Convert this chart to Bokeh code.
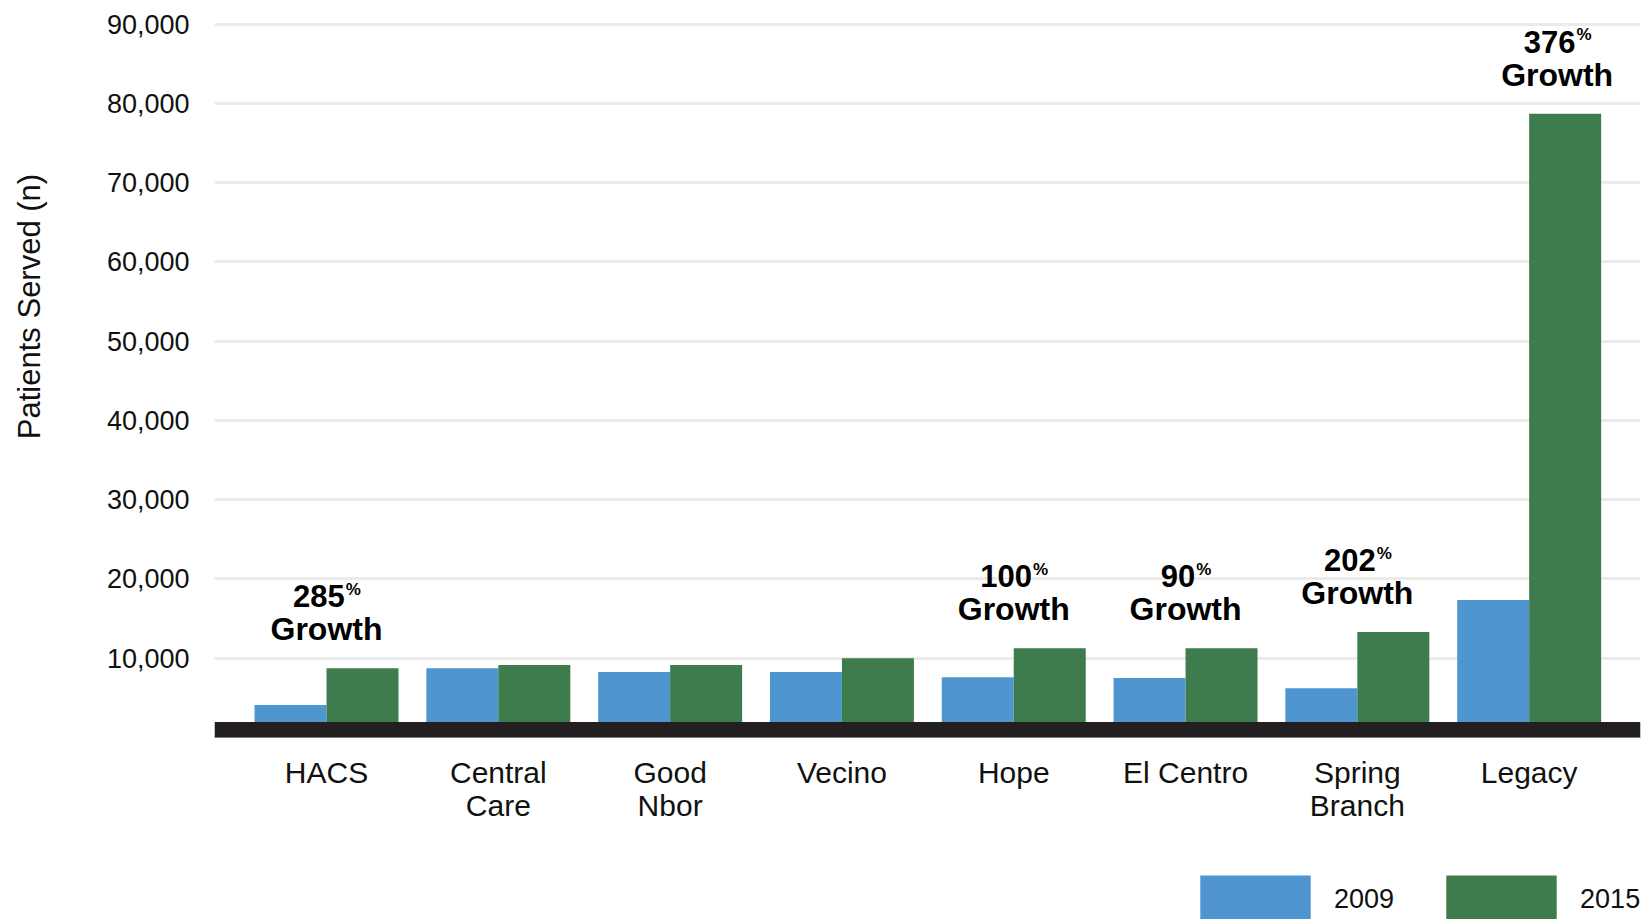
import math
from bokeh.plotting import figure
from bokeh.layouts import row, column
from bokeh.models import (ColumnDataSource, Range1d, FixedTicker, NumeralTickFormatter,
                          BoxAnnotation, Legend, LegendItem, Label)
from bokeh.transform import dodge
from bokeh.core.properties import value
from bokeh.embed import file_html
from bokeh.resources import INLINE

# ---------------- data ----------------
categories = ["HACS", "Central Care", "Good Nbor", "Vecino", "Hope",
              "El Centro", "Spring Branch", "Legacy"]
tick_labels = ["HACS", "Central\nCare", "Good\nNbor", "Vecino", "Hope",
               "El Centro", "Spring\nBranch", "Legacy"]
patients_2009 = [4100, 8750, 8250, 8250, 7600, 7500, 6200, 17350]
patients_2015 = [8750, 9150, 9150, 10000, 11250, 11250, 13300, 78700]
years = ["2009", "2015"]
growth_sites = ["HACS", "Hope", "El Centro", "Spring Branch", "Legacy"]
growth_pct = [285, 100, 90, 202, 376]
y_ticks = [10000, 20000, 30000, 40000, 50000, 60000, 70000, 80000, 90000]
y_title = "Patients Served (n)"

# ---------------- styles ----------------
BLUE = "#4f96d0"
GREEN = "#3e7c4e"
FONT = "Liberation Sans"
growth_dx = [0, 0, 0, 0, 28]        # pixel shift of each growth label
NUM_PX, PCT_PX = 31, 17
LEFT_W = 60
MAIN_H = 860


def bare(fig):
    fig.outline_line_color = None
    fig.xgrid.visible = False
    fig.ygrid.visible = False
    return fig


# ---------------- left strip: y axis title ----------------
yl = bare(figure(width=LEFT_W, height=MAIN_H, x_range=Range1d(0, 1), y_range=Range1d(0, 1),
                 x_axis_location=None, y_axis_location=None, output_backend="svg",
                 toolbar_location=None, min_border=0))
yl.add_layout(Label(x=29, y=431, x_units="screen", y_units="screen",
                    text=y_title, angle=math.pi / 2, text_align="center",
                    text_baseline="middle", text_font=FONT, text_font_size="31px",
                    text_color="#111111"))

# ---------------- main chart ----------------
src = ColumnDataSource(dict(x=list(range(len(categories))), cat=categories,
                            v09=patients_2009, v15=patients_2015))

p = figure(width=1645 - LEFT_W, height=MAIN_H,
           x_range=Range1d(-0.652, 7.648), y_range=Range1d(0, 90970),
           output_backend="svg", toolbar_location=None,
           min_border_left=214 - LEFT_W, min_border_right=5, min_border_top=16,
           min_border_bottom=MAIN_H - 737)
p.outline_line_color = None

bw = 0.419
r09 = p.vbar(x=dodge("x", -bw / 2, range=p.x_range), top="v09", width=bw,
             source=src, fill_color=BLUE, line_color=None)
r15 = p.vbar(x=dodge("x", bw / 2, range=p.x_range), top="v15", width=bw,
             source=src, fill_color=GREEN, line_color=None)

# black baseline band
p.add_layout(BoxAnnotation(bottom=0, top=1970, fill_color="#231f20",
                           fill_alpha=1.0, line_color=None))

p.xgrid.visible = False
p.ygrid.ticker = FixedTicker(ticks=y_ticks)
p.ygrid.grid_line_color = "#ebebeb"
p.ygrid.grid_line_width = 3

p.yaxis.ticker = FixedTicker(ticks=y_ticks)
p.yaxis.formatter = NumeralTickFormatter(format="0,0")
p.yaxis.major_tick_line_color = None
p.yaxis.minor_tick_line_color = None
p.yaxis.axis_line_color = None
p.yaxis.major_label_standoff = 19
p.yaxis.major_label_text_font = FONT
p.yaxis.major_label_text_font_size = "27px"
p.yaxis.major_label_text_color = "#111111"

p.xaxis.ticker = FixedTicker(ticks=list(range(len(categories))))
p.xaxis.major_label_overrides = {i: t for i, t in enumerate(tick_labels)}
p.xaxis.major_tick_line_color = None
p.xaxis.minor_tick_line_color = None
p.xaxis.axis_line_color = "#9a9a9a"
p.xaxis.axis_line_width = 1
p.xaxis.major_label_standoff = 12
p.xaxis.major_label_text_font = FONT
p.xaxis.major_label_text_font_size = "30px"
p.xaxis.major_label_text_color = "#111111"
p.xaxis.major_label_text_line_height = 1.0

# growth annotations
gx, gy, gnum, gnum_dx, gpct_dx = [], [], [], [], []
for site, pct, dx in zip(growth_sites, growth_pct, growth_dx):
    i = categories.index(site)
    gx.append(i)
    gy.append(patients_2015[i])
    s = str(pct)
    numw = len(s) * 0.556 * NUM_PX
    pctw = 0.889 * PCT_PX
    split = (numw - pctw) / 2
    gnum.append(s)
    gnum_dx.append(split + dx)
    gpct_dx.append(split + dx + 1)
gsrc = ColumnDataSource(dict(x=gx, y=gy, num=gnum, num_dx=gnum_dx, pct_dx=gpct_dx,
                             grow=["Growth"] * len(gx), pct=["%"] * len(gx),
                             dx=growth_dx))
p.text(x="x", y="y", text="num", source=gsrc, x_offset="num_dx", y_offset=-72,
       text_align="right", text_baseline="alphabetic", text_font=value(FONT),
       text_font_style="bold", text_font_size=f"{NUM_PX}px", text_color="black")
p.text(x="x", y="y", text="pct", source=gsrc, x_offset="pct_dx", y_offset=-79,
       text_align="left", text_baseline="alphabetic", text_font=value(FONT),
       text_font_style="bold", text_font_size=f"{PCT_PX}px", text_color="black")
p.text(x="x", y="y", text="grow", source=gsrc, x_offset="dx", y_offset=-39,
       text_align="center", text_baseline="alphabetic", text_font=value(FONT),
       text_font_style="bold", text_font_size="32px", text_color="black")

# ---------------- bottom strip: legend ----------------
q = bare(figure(width=1645, height=919 - MAIN_H, x_range=Range1d(0, 1), y_range=Range1d(0, 1),
                x_axis_location=None, y_axis_location=None, output_backend="svg",
                toolbar_location=None, min_border=0))
# zero-size keys: they only supply the legend swatches
k09 = q.vbar(x=[0.5], top=[0], bottom=[0], width=0, fill_color=BLUE, line_color=None)
k15 = q.vbar(x=[0.5], top=[0], bottom=[0], width=0, fill_color=GREEN, line_color=None)
legend = Legend(items=[LegendItem(label=years[0], renderers=[k09]),
                       LegendItem(label=years[1], renderers=[k15])],
                location=(1186, -10), orientation="horizontal",
                glyph_width=138, glyph_height=60, label_height=60,
                label_standoff=10, spacing=38, padding=0, margin=0,
                border_line_alpha=0, background_fill_alpha=0,
                label_text_font=FONT, label_text_font_size="27px",
                label_text_color="#111111")
q.add_layout(legend)

layout = column(row(yl, p), q)
open("out.html", "w").write(file_html(layout, INLINE))
